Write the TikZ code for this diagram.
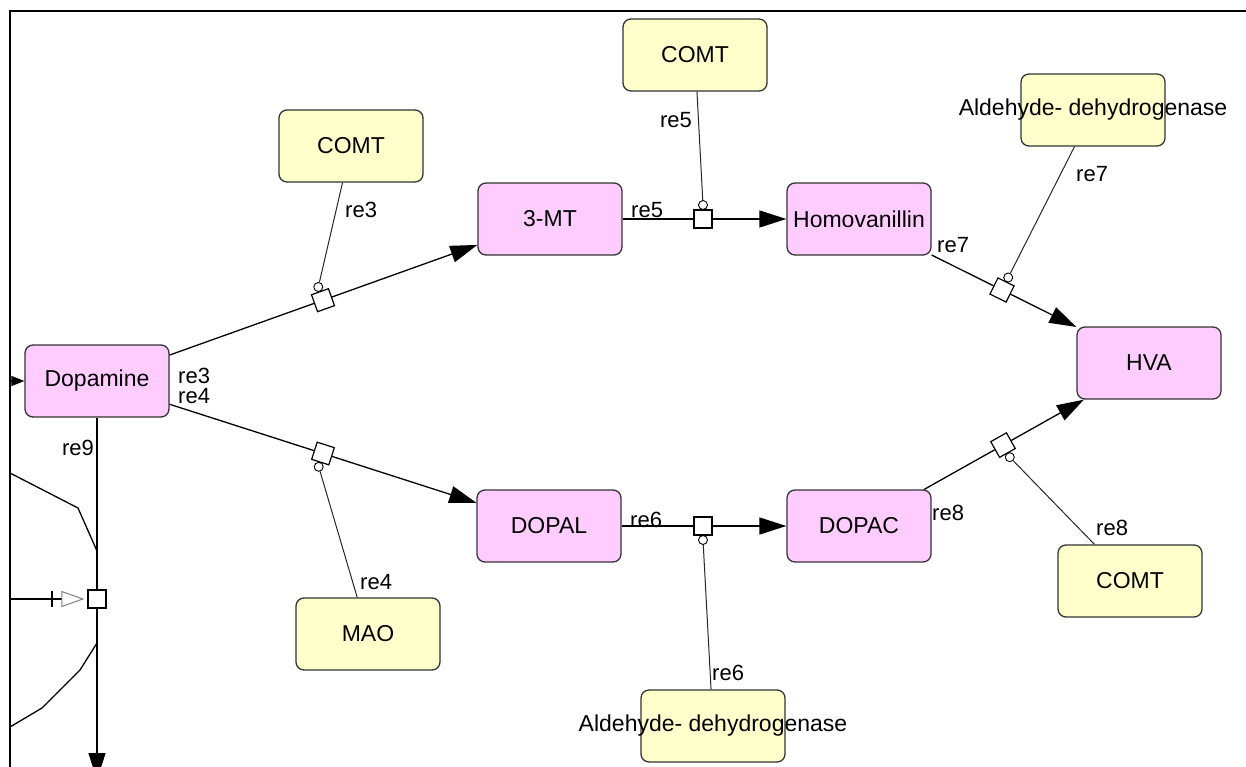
\documentclass[tikz,border=0pt]{standalone}
\usepackage{fontspec}
\setmainfont{Liberation Sans}
\usetikzlibrary{arrows.meta}
\definecolor{specfill}{HTML}{FFCCFF}
\definecolor{enzfill}{HTML}{FFFFCC}
\definecolor{boxline}{HTML}{333333}
\begin{document}
\begin{tikzpicture}[x=1pt,y=-1pt,
  species/.style={rectangle, rounded corners=8pt, draw=boxline, line width=1.3pt, fill=specfill,
    minimum width=144pt, minimum height=72pt, inner sep=0pt, font=\fontsize{23}{27}\selectfont},
  enzyme/.style={species, fill=enzfill},
  rxn/.style={rectangle, draw=black, fill=white, line width=1.2pt, minimum size=18pt, inner sep=0pt},
  modc/.style={circle, draw=black, fill=white, line width=0.9pt, minimum size=9pt, inner sep=0pt},
  mainline/.style={line width=1.3pt, draw=black},
  modline/.style={line width=1pt, draw=black!85},
  prod/.style={mainline, -{Triangle[length=27pt,width=17pt]}},
  lab/.style={font=\fontsize{22}{26}\selectfont, inner sep=0pt},
  bigtext/.style={font=\fontsize{23}{27}\selectfont, inner sep=0pt}
]
\useasboundingbox (0,0) rectangle (1246,767);
% frame
\draw[line width=2pt] (10,770) -- (10,11) -- (1250,11);

% species
\node[species] (dop) at (97,381) {Dopamine};
\node[species] (mt) at (550,219) {3-MT};
\node[species] (homo) at (859,219) {Homovanillin};
\node[species] (hva) at (1149,363) {HVA};
\node[species] (dopal) at (549,526) {DOPAL};
\node[species] (dopac) at (859,526) {DOPAC};
% enzymes
\node[enzyme] (comtA) at (351,146) {COMT};
\node[enzyme] (comtB) at (695,55) {COMT};
\node[enzyme] (comtC) at (1130,581) {COMT};
\node[enzyme] (mao) at (368,634) {MAO};
\node[enzyme, label={[bigtext]center:Aldehyde- dehydrogenase}] (aldA) at (1093,110) {};
\node[enzyme, label={[bigtext]center:Aldehyde- dehydrogenase}] (aldB) at (713,726) {};

% reaction squares
\node[rxn, rotate=19.7] (r3) at (323,300.2) {};
\node[rxn, rotate=-17.8] (r4) at (323,453.5) {};
\node[rxn] (r5) at (703,219) {};
\node[rxn] (r6) at (703,526) {};
\node[rxn, rotate=-26.4] (r7) at (1002,290) {};
\node[rxn, rotate=29.3] (r8) at (1003,445.1) {};
\node[rxn] (r9) at (97,599) {};

% modifier circles
\node[modc] (c3) at (318.3,287.0) {};
\node[modc] (c4) at (318.7,466.8) {};
\node[modc] (c5) at (703,205) {};
\node[modc] (c6) at (703,540) {};
\node[modc] (c7) at (1008.2,277.5) {};
\node[modc] (c8) at (1009.8,457.2) {};

% reactions
\draw[mainline] (dop) -- (r3);
\draw[prod] (r3) -- (mt);
\draw[mainline] (dop) -- (r4);
\draw[prod] (r4) -- (dopal);
\draw[mainline] (mt) -- (r5);
\draw[prod] (r5) -- (homo);
\draw[mainline] (dopal) -- (r6);
\draw[prod] (r6) -- (dopac);
\draw[mainline] (homo) -- (r7);
\draw[prod] (r7) -- (hva);
\draw[mainline] (dopac) -- (r8);
\draw[prod] (r8) -- (hva);

% modifiers
\draw[modline] (comtA) -- (c3);
\draw[modline] (mao) -- (c4);
\draw[modline] (comtB) -- (c5);
\draw[modline] (aldB) -- (c6);
\draw[modline] (aldA) -- (c7);
\draw[modline] (comtC) -- (c8);

% re9 and partial connectors at the left
\coordinate (r9end) at (97,780);
\draw[mainline] (dop) -- (r9);
\draw[prod] (r9) -- (r9end);
\coordinate (dopin) at (10,381);
\draw[mainline, -{Triangle[length=13pt,width=10pt]}] (dopin) -- (dop);
\coordinate (inhstart) at (10,599);
\coordinate (inhbar) at (52,599);
\draw[mainline, shorten >=3pt, -{Triangle[open, length=23pt, width=16pt, color=gray, line width=1pt]}] (inhstart) -- (r9);
\draw[mainline] ([yshift=8pt]inhbar) -- ([yshift=-8pt]inhbar);
\draw[mainline] (10,473) -- (78,508) -- (97,551);
\draw[mainline] (97,643) -- (80,670) -- (42,708) -- (10,727);

% labels
\node[lab, anchor=base west] at (178,383) {re3};
\node[lab, anchor=base west] at (178,403) {re4};
\node[lab, anchor=base east] at (94,455) {re9};
\node[lab, anchor=base west] at (345,218) {re3};
\node[lab, anchor=base west] at (360,589) {re4};
\node[lab, anchor=base west] at (631,218) {re5};
\node[lab, anchor=base east] at (692,128) {re5};
\node[lab, anchor=base west] at (630,527) {re6};
\node[lab, anchor=base west] at (712,680) {re6};
\node[lab, anchor=base west] at (937,252) {re7};
\node[lab, anchor=base west] at (1076,182) {re7};
\node[lab, anchor=base west] at (932,520) {re8};
\node[lab, anchor=base west] at (1096,535) {re8};
\end{tikzpicture}
\end{document}
